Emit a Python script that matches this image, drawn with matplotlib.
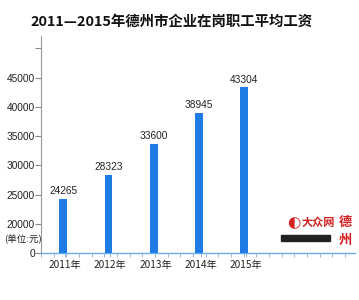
import numpy as np
import matplotlib
matplotlib.use("Agg")
import matplotlib.pyplot as plt
from matplotlib.patches import Rectangle

plt.rcParams['font.family'] = ['Noto Sans CJK SC', 'DejaVu Sans']

years = ["2011年", "2012年", "2013年", "2014年", "2015年"]
wages = [24265, 28323, 33600, 38945, 43304]
ytick_vals = [0, 20000, 25000, 30000, 35000, 40000, 45000, 50000]
ytick_labels = ["0", "20000", "25000", "30000", "35000", "40000", "45000", ""]
title = "2011—2015年德州市企业在岗职工平均工资"
unit = "(单位:元)"

def fwd(v):
    v = np.asarray(v, dtype=float)
    return np.where(v <= 20000, v / 4.0, v - 15000.0)

def inv(y):
    y = np.asarray(y, dtype=float)
    return np.where(y <= 5000, y * 4.0, y + 15000.0)

W, H = 359, 300
fig = plt.figure(figsize=(W / 100, H / 100), dpi=100)
fig.patch.set_facecolor("white")
ax = fig.add_axes([41 / W, 1 - 253 / H, (355 - 41) / W, (253 - 36) / H])
ax.set_yscale("function", functions=(fwd, inv))

x = np.arange(len(years))
bar_color = "#1f7be6"
ax.bar(x, wages, width=0.17, color=bar_color, zorder=3)
for xi, v in zip(x, wages):
    ax.annotate(f"{v}", (xi, v), xytext=(0, 2), textcoords="offset points",
                ha="center", va="bottom", fontsize=7.3, color="#222222",
                family=["Liberation Sans"])

ax.set_xlim(-0.49, 6.45)
ax.set_ylim(0, 52100)

ax.set_yticks(ytick_vals)
ax.set_yticklabels(ytick_labels, fontsize=7.3, color="#222222", family=["Liberation Sans"])
ax.yaxis.set_minor_locator(matplotlib.ticker.NullLocator())
ax.tick_params(axis="y", direction="out", length=4, width=0.8, color="#888888", pad=0.5)

ax.set_xticks(x + 0.04)
ax.set_xticklabels(years, fontsize=7.3, color="#222222")
ax.tick_params(axis="x", direction="out", length=3, width=0.7, color="#9ab8d8", pad=2)
ax.set_xticks(np.arange(-0.49, 6.45, 0.28), minor=True)
ax.tick_params(axis="x", which="minor", direction="out", length=3, width=0.7, color="#9ab8d8")

for s in ["top", "right"]:
    ax.spines[s].set_visible(False)
ax.spines["left"].set_color("#999999")
ax.spines["left"].set_linewidth(0.8)
ax.spines["bottom"].set_color("#6aaef0")
ax.spines["bottom"].set_linewidth(1.0)

fig.text(30 / W, 1 - 22 / H, title, fontsize=10.4, fontweight="bold",
         ha="left", va="center", color="#111111")
fig.text(4 / W, 1 - 239 / H, unit, fontsize=6.8, ha="left", va="center", color="#222222")

# watermark logo approximation
fig.text(287 / W, 1 - 223 / H, "◐", fontsize=11, color="#d42020", ha="left", va="center",
         family=["DejaVu Sans"])
fig.text(302 / W, 1 - 222 / H, "大众网", fontsize=8, fontweight="bold", style="italic",
         color="#d42020", ha="left", va="center")
fig.patches.append(Rectangle((281 / W, 1 - 241 / H), (330 - 281) / W, 6 / H,
                             transform=fig.transFigure, color="#222222"))
fig.text(345 / W, 1 - 222 / H, "德", fontsize=9.5, fontweight="bold", color="#d42020",
         ha="center", va="center")
fig.text(345 / W, 1 - 240 / H, "州", fontsize=9.5, fontweight="bold", color="#d42020",
         ha="center", va="center")

fig.savefig("out.png", dpi=100, facecolor="white")
